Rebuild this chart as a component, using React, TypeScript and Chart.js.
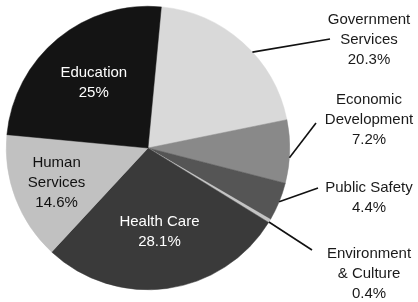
import React, { useEffect, useRef } from "react";
import { Chart, registerables } from "chart.js";

Chart.register(...registerables);

const categories = [
  ["Government", "Services"],
  ["Economic", "Development"],
  ["Public Safety"],
  ["Environment", "& Culture"],
  ["Health Care"],
  ["Human", "Services"],
  ["Education"],
];
const values = [20.3, 7.2, 4.4, 0.4, 28.1, 14.6, 25];
const valueLabels = ["20.3%", "7.2%", "4.4%", "0.4%", "28.1%", "14.6%", "25%"];
const colors = ["#d9d9d9", "#898989", "#555555", "#c4c4c4", "#3a3a3a", "#c1c1c1", "#141414"];

// label layout: inside labels (radial factor) or outside labels with leader lines
const insideLabels: Record<number, { f: number; color: string }> = {
  4: { f: 0.6, color: "#ffffff" },
  5: { f: 0.69, color: "#111111" },
  6: { f: 0.6, color: "#ffffff" },
};
const outsideLabels: Record<number, { angOff: number; endX: number; endY: number; textX: number; textY: number }> = {
  0: { angOff: 5.5, endX: 330, endY: 39, textX: 369, textY: 20 },
  1: { angOff: 2.5, endX: 316, endY: 123, textX: 369, textY: 100 },
  2: { angOff: 0, endX: 318, endY: 188, textX: 369, textY: 188 },
  3: { angOff: 0.5, endX: 312, endY: 250, textX: 369, textY: 254 },
};

const labelPlugin = {
  id: "sliceLabels",
  afterDatasetsDraw(chart: any) {
    const ctx = chart.ctx;
    const meta = chart.getDatasetMeta(0);
    ctx.save();
    ctx.font = '15px "Liberation Sans", Arial, sans-serif';
    ctx.textAlign = "center";
    ctx.textBaseline = "middle";
    const lh = 20;
    meta.data.forEach((arc: any, i: number) => {
      const p = arc.getProps(["x", "y", "startAngle", "endAngle", "outerRadius"], true);
      const mid = (p.startAngle + p.endAngle) / 2;
      const lines = [...categories[i], valueLabels[i]];
      if (insideLabels[i]) {
        const cfg = insideLabels[i];
        const cx = p.x + Math.cos(mid) * p.outerRadius * cfg.f;
        const cy = p.y + Math.sin(mid) * p.outerRadius * cfg.f;
        ctx.fillStyle = cfg.color;
        const top = cy - ((lines.length - 1) * lh) / 2;
        lines.forEach((t, k) => ctx.fillText(t, cx, top + k * lh));
      } else if (outsideLabels[i]) {
        const cfg = outsideLabels[i];
        const a = mid + (cfg.angOff * Math.PI) / 180;
        const sx = p.x + Math.cos(a) * p.outerRadius;
        const sy = p.y + Math.sin(a) * p.outerRadius;
        ctx.strokeStyle = "#111111";
        ctx.lineWidth = 1.6;
        ctx.beginPath();
        ctx.moveTo(sx, sy);
        ctx.lineTo(cfg.endX, cfg.endY);
        ctx.stroke();
        ctx.fillStyle = "#1a1a1a";
        lines.forEach((t, k) => ctx.fillText(t, cfg.textX, cfg.textY + k * lh));
      }
    });
    ctx.restore();
  },
};

export default function App() {
  const ref = useRef<HTMLCanvasElement | null>(null);
  useEffect(() => {
    document.body.style.margin = "0";
    if (!ref.current) return;
    const chart = new Chart(ref.current, {
      type: "pie",
      data: {
        labels: categories.map((c) => c.join(" ")),
        datasets: [
          {
            data: values,
            backgroundColor: colors,
            borderColor: colors,
            borderWidth: 0.5,
          },
        ],
      },
      options: {
        responsive: false,
        animation: false,
        rotation: 5.4,
        layout: { padding: { left: 6, top: 6, right: 128, bottom: 12 } },
        plugins: { legend: { display: false }, tooltip: { enabled: false } },
      },
      plugins: [labelPlugin],
    });
    return () => chart.destroy();
  }, []);
  return (
    <div style={{ position: "absolute", left: 0, top: 0, width: 418, height: 302, background: "#fff" }}>
      <canvas ref={ref} width={418} height={302} />
    </div>
  );
}
